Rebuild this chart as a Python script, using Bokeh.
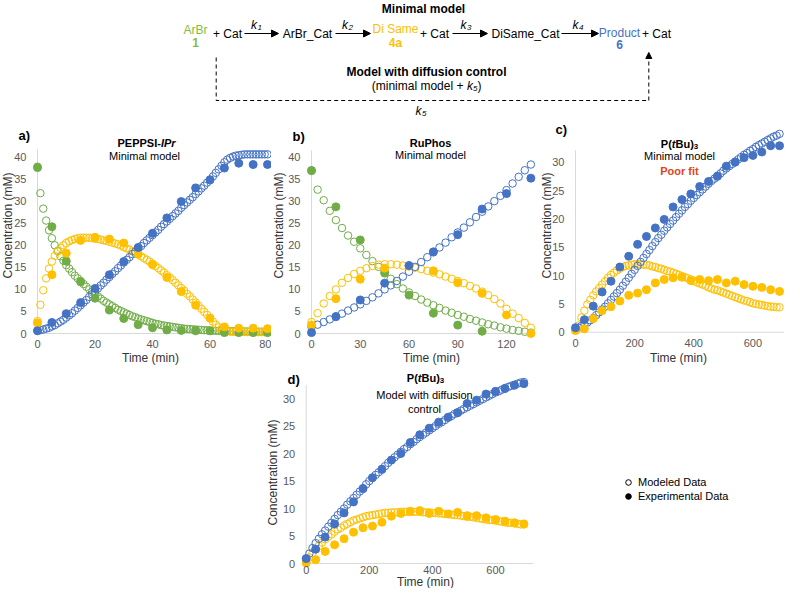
import math
from bokeh.plotting import figure
from bokeh.models import Range1d, Label, Arrow, NormalHead, Legend, LegendItem, Spacer, FixedTicker
from bokeh.layouts import column, row
from bokeh.core.properties import value
from bokeh.embed import file_html
from bokeh.resources import INLINE

FONT = "Liberation Sans"
BLUE = "#4472C4"
ORANGE = "#FFC000"
GREEN = "#70AD47"
TICK_C = "#595959"
TITLE_C = "#333333"
AXIS_C = "#D9D9D9"

# ---------------- data ----------------
# Panel a (PEPPSI-IPr)
a_t_exp = [0, 5, 10, 15, 20, 25, 30, 35, 40, 45, 50, 55, 60, 65, 70, 75, 80]
a_green_exp = [37.6, 24.2, 16.4, 11.7, 8.0, 5.3, 3.4, 2.0, 1.3, 0.8, 0.7, 0.6, 0.6, 0.2, 0.2, 0.2, 0.2]
a_orange_exp = [2.4, 13.3, 18.2, 21.1, 21.8, 21.4, 20.5, 18.0, 15.6, 12.7, 9.5, 6.4, 3.5, 1.5, 1.2, 1.2, 1.1]
a_blue_exp = [0.6, 2.5, 4.5, 7.0, 10.2, 13.3, 16.3, 19.5, 22.7, 26.2, 29.9, 33.0, 34.8, 37.5, 38.6, 38.3, 38.3]

a_t_mod = [0, 1, 2, 3, 4, 5, 6, 7, 8, 9, 10, 11, 12, 13, 14, 15, 16, 17, 18, 19, 20,
           21, 22, 23, 24, 25, 26, 27, 28, 29, 30, 31, 32, 33, 34, 35, 36, 37, 38, 39, 40,
           41, 42, 43, 44, 45, 46, 47, 48, 49, 50, 51, 52, 53, 54, 55, 56, 57, 58, 59, 60,
           61, 62, 63, 64, 65, 66, 67, 68, 69, 70, 71, 72, 73, 74, 75, 76, 77, 78, 79, 80]
a_green_mod = [37.8, 31.8, 28.3, 25.6, 23.4, 21.6, 20.0, 18.7, 17.5, 16.5, 15.5,
               14.7, 13.9, 13.1, 12.5, 11.9, 11.2, 10.6, 10.0, 9.4, 8.9,
               8.4, 7.9, 7.4, 7.0, 6.6, 6.2, 5.8, 5.4, 5.1, 4.8,
               4.5, 4.2, 3.9, 3.7, 3.4, 3.2, 3.0, 2.8, 2.6, 2.4,
               2.2, 2.1, 1.9, 1.8, 1.7, 1.6, 1.5, 1.4, 1.3, 1.2,
               1.1, 1.05, 1.0, 0.95, 0.9, 0.85, 0.8, 0.76, 0.72, 0.68,
               0.65, 0.62, 0.6, 0.58, 0.56, 0.54, 0.52, 0.5, 0.49, 0.48,
               0.47, 0.46, 0.45, 0.44, 0.43, 0.42, 0.42, 0.41, 0.41, 0.4]
a_orange_mod = [2.8, 6.5, 9.8, 12.5, 14.7, 16.3, 17.6, 18.6, 19.4, 20.0, 20.5,
                20.9, 21.2, 21.4, 21.6, 21.7, 21.7, 21.7, 21.7, 21.6, 21.5,
                21.4, 21.3, 21.1, 21.0, 20.8, 20.6, 20.4, 20.2, 19.9, 19.6,
                19.3, 19.0, 18.6, 18.3, 17.9, 17.5, 17.1, 16.7, 16.3, 15.8,
                15.3, 14.8, 14.3, 13.8, 13.2, 12.7, 12.1, 11.5, 10.9, 10.3,
                9.7, 9.0, 8.4, 7.7, 7.0, 6.3, 5.6, 4.9, 4.2, 3.4,
                2.7, 2.0, 1.4, 0.9, 0.6, 0.5, 0.45, 0.4, 0.4, 0.38,
                0.37, 0.36, 0.35, 0.34, 0.33, 0.32, 0.31, 0.3, 0.3, 0.3]
a_blue_mod = [0.7, 0.8, 0.9, 1.1, 1.3, 1.6, 1.9, 2.3, 2.7, 3.1, 3.6,
              4.1, 4.6, 5.2, 5.8, 6.4, 7.0, 7.6, 8.3, 8.9, 9.6,
              10.2, 10.9, 11.5, 12.2, 12.8, 13.5, 14.1, 14.8, 15.4, 16.1,
              16.7, 17.3, 18.0, 18.6, 19.2, 19.8, 20.5, 21.1, 21.7, 22.3,
              22.9, 23.5, 24.2, 24.8, 25.4, 26.0, 26.6, 27.2, 27.8, 28.5,
              29.1, 29.7, 30.3, 30.9, 31.6, 32.2, 32.9, 33.5, 34.2, 34.9,
              35.6, 36.4, 37.2, 38.0, 38.8, 39.4, 39.8, 40.1, 40.3, 40.4,
              40.5, 40.6, 40.6, 40.6, 40.6, 40.6, 40.6, 40.6, 40.6, 40.6]

# Panel b (RuPhos)
b_t_exp = [0, 15, 30, 45, 60, 75, 90, 105, 120, 135]
b_t_exp_green = [0, 15, 30, 45, 60, 75, 90, 105]
b_green_exp = [36.9, 28.7, 21.2, 13.8, 8.7, 4.6, 1.9, 0.5]
b_orange_exp = [1.9, 7.9, 12.3, 14.8, 15.3, 14.2, 11.5, 9.1, 4.2, 0.0]
b_blue_exp = [0.2, 3.8, 7.6, 11.4, 15.4, 18.5, 22.4, 28.2, 31.7, 35.2]

b_t_mod = [0, 3.75, 7.5, 11.25, 15, 18.75, 22.5, 26.25, 30, 33.75, 37.5, 41.25, 45,
           48.75, 52.5, 56.25, 60, 63.75, 67.5, 71.25, 75, 78.75, 82.5, 86.25, 90,
           93.75, 97.5, 101.25, 105, 108.75, 112.5, 116.25, 120, 123.75, 127.5, 131.25, 135]
b_green_mod = [37.0, 32.6, 30.2, 27.8, 25.7, 23.9, 22.2, 20.8, 19.3, 17.8, 16.4, 15.1, 13.6,
               12.4, 11.2, 10.2, 9.3, 8.5, 7.7, 7.0, 6.4, 5.8, 5.2, 4.7, 4.2,
               3.8, 3.3, 2.9, 2.5, 2.1, 1.8, 1.4, 1.1, 0.8, 0.6, 0.4, 0.2]
b_orange_mod = [2.6, 4.6, 6.8, 8.5, 10.0, 11.5, 12.6, 13.5, 14.2, 14.8, 15.3, 15.6, 15.7,
                15.7, 15.6, 15.4, 15.2, 14.9, 14.6, 14.2, 13.8, 13.4, 12.9, 12.4, 11.9,
                11.4, 10.8, 10.2, 9.5, 8.7, 7.8, 6.8, 5.6, 4.5, 3.5, 2.4, 1.3]
b_blue_mod = [1.5, 2.0, 2.6, 3.2, 3.9, 4.5, 5.2, 5.9, 6.6, 7.4, 8.2, 9.1, 10.0,
              10.9, 11.9, 12.9, 14.0, 15.1, 16.2, 17.3, 18.4, 19.5, 20.6, 21.8, 22.9,
              24.0, 25.2, 26.4, 27.6, 28.8, 30.0, 31.2, 32.5, 34.0, 35.5, 37.0, 38.3]

# Panels c and d (P(tBu)3)
cd_t_exp = [0, 30, 60, 90, 120, 150, 180, 210, 240, 270, 300, 330,
            360, 390, 420, 450, 480, 510, 540, 570, 600, 630, 660, 690]
cd_t_mod = [0, 10, 20, 30, 40, 50, 60, 70, 80, 90,
            100, 110, 120, 130, 140, 150, 160, 170, 180, 190,
            200, 210, 220, 230, 240, 250, 260, 270, 280, 290,
            300, 310, 320, 330, 340, 350, 360, 370, 380, 390,
            400, 410, 420, 430, 440, 450, 460, 470, 480, 490,
            500, 510, 520, 530, 540, 550, 560, 570, 580, 590,
            600, 610, 620, 630, 640, 650, 660, 670, 680, 690]

c_blue_exp = [0.8, 2.2, 4.6, 7.1, 9.0, 11.5, 13.4, 15.5, 16.9, 18.4, 19.9, 22.1,
              23.4, 24.4, 25.7, 26.6, 27.5, 29.3, 30.0, 30.8, 31.2, 31.8, 32.9, 32.9]
c_orange_exp = [0.3, 0.6, 2.4, 3.8, 4.5, 5.5, 6.5, 6.9, 7.5, 8.7, 9.3, 9.6,
                9.7, 9.1, 9.3, 9.1, 9.3, 8.7, 9.0, 8.4, 8.1, 7.9, 7.5, 7.2]
c_blue_mod = [0.5, 0.8, 1.1, 1.4, 1.7, 2.1, 2.5, 3.0, 3.5, 4.0,
              4.5, 5.1, 5.7, 6.3, 6.9, 7.5, 8.2, 8.9, 9.6, 10.3,
              11.0, 11.7, 12.4, 13.1, 13.8, 14.5, 15.2, 15.9, 16.6, 17.2,
              17.9, 18.5, 19.1, 19.7, 20.3, 20.9, 21.5, 22.1, 22.6, 23.2,
              23.7, 24.2, 24.7, 25.2, 25.7, 26.2, 26.7, 27.1, 27.6, 28.0,
              28.5, 28.9, 29.3, 29.7, 30.1, 30.5, 30.9, 31.3, 31.6, 32.0,
              32.3, 32.7, 33.0, 33.3, 33.6, 33.9, 34.2, 34.5, 34.7, 35.0]
c_orange_mod = [0.3, 1.2, 2.6, 3.8, 4.9, 5.7, 6.5, 7.2, 7.8, 8.4,
                9.0, 9.6, 10.1, 10.5, 10.9, 11.2, 11.5, 11.7, 11.8, 11.9,
                12.0, 12.0, 12.0, 11.9, 11.9, 11.8, 11.6, 11.5, 11.3, 11.2,
                11.0, 10.8, 10.7, 10.5, 10.3, 10.1, 9.9, 9.7, 9.5, 9.3,
                9.1, 8.8, 8.6, 8.4, 8.2, 7.9, 7.7, 7.5, 7.4, 7.2,
                7.0, 6.8, 6.6, 6.4, 6.2, 6.0, 5.8, 5.6, 5.5, 5.3,
                5.1, 5.0, 4.9, 4.8, 4.7, 4.6, 4.5, 4.5, 4.4, 4.4]

d_blue_exp = [0.9, 2.6, 4.8, 7.2, 9.2, 11.2, 13.6, 15.6, 17.1, 18.8, 20.0, 22.0,
              23.4, 24.6, 25.7, 26.6, 27.4, 29.1, 29.7, 30.8, 31.3, 31.8, 32.4, 32.7]
d_orange_exp = [0.1, 0.7, 2.2, 3.4, 4.5, 5.7, 6.5, 6.8, 7.5, 8.6, 9.1, 9.5,
                9.6, 9.1, 9.5, 9.0, 9.3, 8.7, 8.7, 8.3, 8.0, 7.7, 7.4, 7.2]
d_blue_mod = [0.8, 1.8, 2.8, 3.7, 4.5, 5.3, 6.0, 6.7, 7.4, 8.1,
              8.8, 9.4, 10.0, 10.7, 11.3, 11.9, 12.5, 13.1, 13.7, 14.4,
              15.0, 15.6, 16.1, 16.6, 17.2, 17.7, 18.3, 18.8, 19.3, 19.8,
              20.3, 20.8, 21.2, 21.7, 22.1, 22.6, 23.0, 23.4, 23.8, 24.2,
              24.6, 25.0, 25.4, 25.7, 26.1, 26.5, 26.8, 27.2, 27.5, 27.8,
              28.1, 28.4, 28.7, 29.0, 29.3, 29.6, 29.9, 30.2, 30.5, 30.8,
              31.1, 31.3, 31.6, 31.9, 32.1, 32.3, 32.5, 32.7, 32.9, 33.0]
d_orange_mod = [0.3, 1.1, 1.9, 2.6, 3.2, 3.8, 4.4, 4.9, 5.3, 5.8,
                6.2, 6.5, 6.9, 7.2, 7.5, 7.8, 8.0, 8.2, 8.4, 8.6,
                8.7, 8.8, 8.9, 9.0, 9.1, 9.2, 9.2, 9.3, 9.3, 9.3,
                9.4, 9.4, 9.4, 9.4, 9.4, 9.4, 9.4, 9.3, 9.3, 9.3,
                9.2, 9.2, 9.1, 9.1, 9.0, 9.0, 8.9, 8.8, 8.8, 8.7,
                8.6, 8.5, 8.5, 8.4, 8.3, 8.2, 8.1, 8.0, 7.9, 7.9,
                7.8, 7.7, 7.6, 7.5, 7.4, 7.4, 7.3, 7.2, 7.1, 7.1]

a_xticks = [0, 20, 40, 60, 80]
b_xticks = [0, 30, 60, 90, 120]
cd_xticks = [0, 200, 400, 600]
ab_yticks = [0, 5, 10, 15, 20, 25, 30, 35, 40]
cd_yticks = [0, 5, 10, 15, 20, 25, 30]


# ---------------- helpers ----------------
def panel(W, H, cx0, cy0, xz, ppx, yz, ppy, xticks, yticks, xstand, ystand,
          x_axis_end, y_axis_top):
    """Frame covers the whole canvas; axes drawn at the zero lines."""
    p = figure(width=W, height=H,
               x_range=Range1d((cx0 - xz) / ppx, (cx0 + W - xz) / ppx),
               y_range=Range1d((yz - (cy0 + H)) / ppy, (yz - cy0) / ppy),
               min_border=0, output_backend="svg", toolbar_location=None)
    p.outline_line_color = None
    p.grid.visible = False
    for ax in (p.xaxis[0], p.yaxis[0]):
        ax.fixed_location = 0
        ax.axis_line_color = None
        ax.major_tick_line_color = None
        ax.minor_tick_line_color = None
        ax.major_tick_out = 0
        ax.major_tick_in = 0
        ax.minor_tick_out = 0
        ax.minor_tick_in = 0
        ax.major_label_text_font = FONT
        ax.major_label_text_font_size = "11px"
        ax.major_label_text_color = TICK_C
    p.xaxis[0].ticker = FixedTicker(ticks=xticks)
    p.yaxis[0].ticker = FixedTicker(ticks=yticks)
    p.xaxis[0].major_label_standoff = xstand
    p.yaxis[0].major_label_standoff = ystand
    # light axis lines at the zero values
    p.line([0, x_axis_end], [0, 0], line_color=AXIS_C, line_width=1)
    p.line([0, 0], [0, y_axis_top], line_color=AXIS_C, line_width=1)
    return p, {"L": cx0, "B": cy0 + H}


def lab(p, fr, px, py, text, size="11px", style="normal", color="black",
        align="center", angle=0.0):
    p.add_layout(Label(x=px - fr["L"], y=fr["B"] - py, x_units="screen", y_units="screen",
                       text=text, text_font=FONT, text_font_size=size,
                       text_font_style=style, text_color=color, text_align=align,
                       text_baseline="middle", angle=angle))


def open_pts(p, x, y, c):
    p.scatter(x, y, marker="circle", size=7.5, fill_color=None, line_color=c, line_width=1)


def fill_pts(p, x, y, c):
    p.scatter(x, y, marker="circle", size=8, fill_color=c, line_color=c, line_width=1)


def ptbu(p, fr, cx, cy):
    start = cx - 18.7
    lab(p, fr, start + 11.0, cy, "P(", style="bold", align="right")
    lab(p, fr, start + 11.0, cy, "t", style="bold italic", align="left")
    lab(p, fr, start + 14.7, cy, "Bu)", style="bold", align="left")
    lab(p, fr, start + 33.0, cy + 3, "3", size="8px", style="bold", align="left")


def axis_titles(p, fr, xt, yt):
    lab(p, fr, xt[0], xt[1], "Time (min)", size="12px", color=TITLE_C)
    lab(p, fr, yt[0], yt[1], "Concentration (mM)", size="12px", color=TITLE_C,
        angle=math.pi / 2)


# ---------------- scheme ----------------
sch = figure(width=784, height=120, x_range=Range1d(0, 784), y_range=Range1d(120, 0),
             min_border=0, x_axis_location=None, y_axis_location=None,
             output_backend="svg", toolbar_location=None)
sch.outline_line_color = None
sch.grid.visible = False


def st(x, y, t, size="12px", style="normal", color="black", align="center"):
    sch.text(x=[x], y=[y], text=[t], text_font=value(FONT), text_font_size=value(size),
             text_font_style=style, text_color=color, text_align=align,
             text_baseline="middle")


st(423, 8, "Minimal model", style="bold")
st(195, 29, "ArBr", color="#7FBF3F")
st(195, 42, "1", style="bold", color="#7FBF3F")
st(227, 33, "+ Cat")
st(307, 33, "ArBr_Cat")
st(395, 28.5, "Di Same", color=ORANGE)
st(395, 42, "4a", style="bold", color=ORANGE)
st(434, 33, "+ Cat")
st(525, 33, "DiSame_Cat")
st(619, 32.5, "Product", color=BLUE)
st(619, 44, "6", style="bold", color=BLUE)
st(656, 33, "+ Cat")
for (x0, x1, kx, num) in [(244, 278, 256.5, "1"), (335, 370, 347.5, "2"),
                          (452, 487, 466, "3"), (561, 598, 578, "4")]:
    sch.add_layout(Arrow(x_start=x0, y_start=33, x_end=x1, y_end=33, line_width=1,
                         line_color="black",
                         end=NormalHead(size=7, fill_color="black", line_color="black")))
    st(kx, 24, "k", style="italic", align="right")
    st(kx + 0.5, 27, num, size="8px", style="italic", align="left")

sch.line([215.7, 215.7, 648.3], [57, 100, 100], line_color="black", line_width=1,
         line_dash="4 3")
sch.add_layout(Arrow(x_start=648.3, y_start=100, x_end=648.3, y_end=52, line_width=1,
                     line_color="black", line_dash="4 3",
                     end=NormalHead(size=6, fill_color="black", line_color="black")))
st(426, 71, "Model with diffusion control", style="bold")
st(466.3, 85, "(minimal model + ", align="right")
st(466.5, 85, "k", style="italic", align="left")
st(472.5, 88, "5", size="8px", style="italic", align="left")
st(477, 85, ")", align="left")
st(421, 110, "k", style="italic", align="right")
st(421.5, 113, "5", size="8px", style="italic", align="left")

# ---------------- panel a ----------------
pa, fa = panel(271, 248, 0, 120, 37, 2.875, 333, 4.4125,
               a_xticks, ab_yticks, 6, 11, 80.5, 41.7)
open_pts(pa, a_t_mod, a_green_mod, GREEN)
open_pts(pa, a_t_mod, a_orange_mod, ORANGE)
open_pts(pa, a_t_mod, a_blue_mod, BLUE)
fill_pts(pa, a_t_exp, a_green_exp, GREEN)
fill_pts(pa, a_t_exp, a_orange_exp, ORANGE)
fill_pts(pa, a_t_exp, a_blue_exp, BLUE)
lab(pa, fa, 18, 135, "a)", size="13px", style="bold", align="left")
lab(pa, fa, 160.4, 142, "PEPPSI-", style="bold", align="right")
lab(pa, fa, 160.4, 142, "IPr", style="bold italic", align="left")
lab(pa, fa, 144, 155, "Minimal model")
axis_titles(pa, fa, (150, 357), (7, 225))

# ---------------- panel b ----------------
pb, fb = panel(269, 248, 271, 120, 311, 1.625, 333, 4.4125,
               b_xticks, ab_yticks, 6, 11, 136, 41.5)
open_pts(pb, b_t_mod, b_green_mod, GREEN)
open_pts(pb, b_t_mod, b_orange_mod, ORANGE)
open_pts(pb, b_t_mod, b_blue_mod, BLUE)
fill_pts(pb, b_t_exp_green, b_green_exp, GREEN)
fill_pts(pb, b_t_exp, b_orange_exp, ORANGE)
fill_pts(pb, b_t_exp, b_blue_exp, BLUE)
lab(pb, fb, 292, 136, "b)", size="13px", style="bold", align="left")
lab(pb, fb, 430, 142, "RuPhos", style="bold")
lab(pb, fb, 430, 154.5, "Minimal model")
axis_titles(pb, fb, (431, 357), (278, 225))

# ---------------- panel c ----------------
pc, fc = panel(244, 248, 540, 120, 575, 0.2957, 331.7, 5.667,
               cd_xticks, cd_yticks, 7, 11, 705, 32.1)
open_pts(pc, cd_t_mod, c_orange_mod, ORANGE)
open_pts(pc, cd_t_mod, c_blue_mod, BLUE)
fill_pts(pc, cd_t_exp, c_orange_exp, ORANGE)
fill_pts(pc, cd_t_exp, c_blue_exp, BLUE)
lab(pc, fc, 555, 129, "c)", size="13px", style="bold", align="left")
ptbu(pc, fc, 679, 143)
lab(pc, fc, 679, 155.5, "Minimal model")
lab(pc, fc, 679, 170, "Poor fit", style="bold", color="#E0441B")
axis_titles(pc, fc, (678, 357), (546, 225))

# ---------------- panel d ----------------
pd, fd = panel(290, 220, 250, 368, 305.7, 0.3155, 563, 5.5,
               cd_xticks, cd_yticks, 2, 11, 720, 32.5)
open_pts(pd, cd_t_mod, d_orange_mod, ORANGE)
open_pts(pd, cd_t_mod, d_blue_mod, BLUE)
fill_pts(pd, cd_t_exp, d_orange_exp, ORANGE)
fill_pts(pd, cd_t_exp, d_blue_exp, BLUE)
lab(pd, fd, 287, 378.5, "d)", size="13px", style="bold", align="left")
ptbu(pd, fd, 425, 377)
lab(pd, fd, 424, 394, "Model with diffusion")
lab(pd, fd, 424, 408, "control")
axis_titles(pd, fd, (425, 581), (272, 472))

# ---------------- legend ----------------
pl = figure(width=244, height=220, x_range=Range1d(0, 1), y_range=Range1d(0, 1),
            min_border=0, x_axis_location=None, y_axis_location=None,
            output_backend="svg", toolbar_location=None)
pl.outline_line_color = None
pl.grid.visible = False
# legend-only renderers (no visible data point)
r_mod = pl.scatter(x=[math.nan], y=[math.nan], marker="circle", size=7, fill_color=None,
                   line_color="black", line_width=1)
r_exp = pl.scatter(x=[math.nan], y=[math.nan], marker="circle", size=7, fill_color="black",
                   line_color="black")
leg = Legend(items=[LegendItem(label="Modeled Data", renderers=[r_mod]),
                    LegendItem(label="Experimental Data", renderers=[r_exp])],
             location=(81, 85), margin=0, padding=0, spacing=0,
             glyph_width=14, glyph_height=14, label_height=14, label_standoff=3,
             label_text_font=FONT, label_text_font_size="11px",
             label_text_color="black", border_line_color=None,
             background_fill_alpha=0)
pl.add_layout(leg)

layout = column(sch, row(pa, pb, pc), row(Spacer(width=250, height=220), pd, pl))

open("out.html", "w").write(file_html(layout, INLINE))
